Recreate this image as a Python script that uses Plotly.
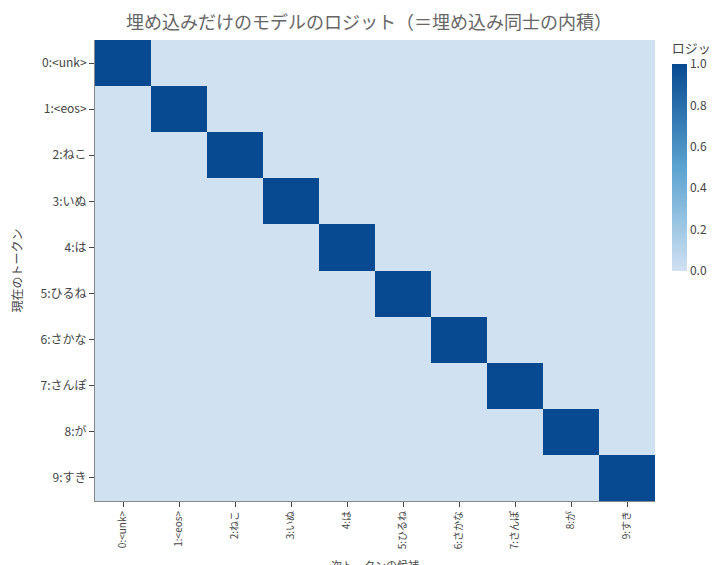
import plotly.graph_objects as go

tokens = ["<unk>", "<eos>", "ねこ", "いぬ", "は", "ひるね", "さかな", "さんぽ", "が", "すき"]
labels = [f"{i}:{t}" for i, t in enumerate(tokens)]
# identity matrix
z = [[1.0 if i == j else 0.0 for j in range(len(tokens))] for i in range(len(tokens))]

fig = go.Figure(go.Heatmap(
    z=z, x=labels, y=labels,
    colorscale=[[0, "#d0e1f2"], [0.5, "#5ba3d0"], [1, "#084a91"]],
    zmin=0, zmax=1,
    colorbar=dict(title=dict(text="ロジット", side="top", font=dict(size=13)),
                  len=0.5, y=1.0, yanchor="top", thickness=15, x=1.03, xpad=0, ypad=0,
                  outlinewidth=0, tickfont=dict(size=12), dtick=0.2, tickformat=".1f"),
))
fig.update_layout(
    width=722, height=565,
    font=dict(family="Noto Sans CJK JP", color="#444", size=12),
    title=dict(text="埋め込みだけのモデルのロジット（＝埋め込み同士の内積）", x=0.5, y=0.985,
               font=dict(size=18, color="#666")),
    margin=dict(l=87, r=75, t=32, b=72, autoexpand=False),
    plot_bgcolor="white",
)
fig.update_xaxes(title=dict(text="次トークンの候補", font=dict(size=11)), tickangle=-90,
                 ticks="outside", ticklen=5, showline=True, linecolor="#888", tickfont=dict(size=10))
fig.update_yaxes(title=dict(text="現在のトークン", font=dict(size=12)), autorange="reversed",
                 ticks="outside", ticklen=5, showline=True, linecolor="#888")
fig.write_html("out.html")
